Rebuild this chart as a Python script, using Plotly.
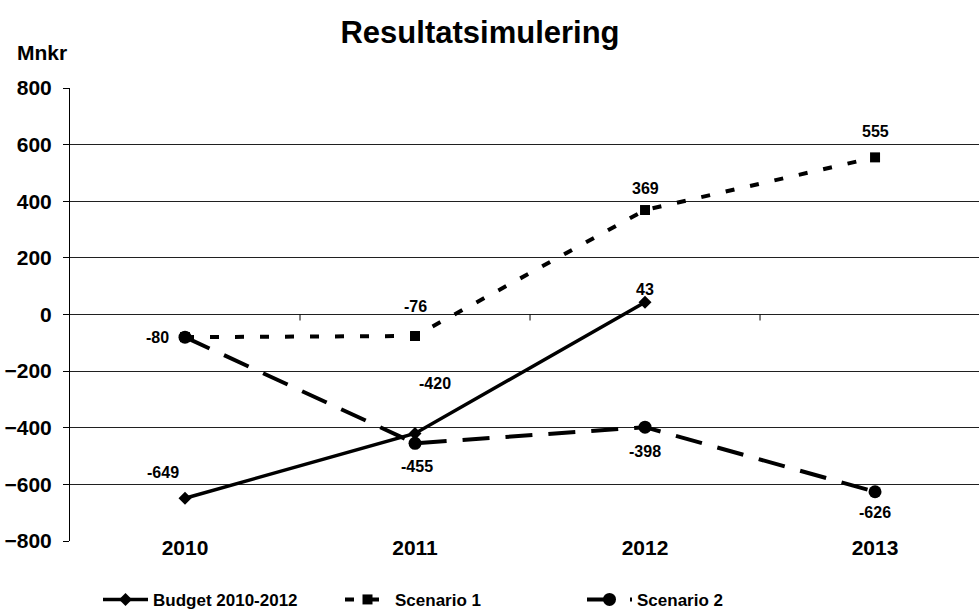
import plotly.graph_objects as go

years = ["2010", "2011", "2012", "2013"]
budget = [-649, -420, 43]
scenario1 = [-80, -76, 369, 555]
scenario2 = [-80, -455, -398, -626]
y_ticks = [-800, -600, -400, -200, 0, 200, 400, 600, 800]

FONT = "Liberation Sans, Arial, sans-serif"
xi = list(range(len(years)))

W, H = 979, 612
L, R, T, B = 70, 0, 88, 71
PW, PH = W - L - R, H - T - B

fig = go.Figure()
fig.add_trace(go.Scatter(
    x=xi[:len(budget)], y=budget, name="Budget 2010-2012", mode="lines+markers",
    line=dict(color="black", width=3.5),
    marker=dict(symbol="diamond", size=10, color="black")))
fig.add_trace(go.Scatter(
    x=xi, y=scenario1, name="Scenario 1", mode="lines+markers",
    line=dict(color="black", width=4, dash="9px,16px"),
    marker=dict(symbol="square", size=10, color="black")))
fig.add_trace(go.Scatter(
    x=xi, y=scenario2, name="Scenario 2", mode="lines+markers",
    line=dict(color="black", width=4, dash="27px,16px"),
    marker=dict(symbol="circle", size=13, color="black")))

# data labels (pixel offsets only)
b_off = [(-22, 26), (20, 50), (0, 13)]
s1_off = [None, (0, 30), (0, 22), (0, 26)]
s2_off = [(-28, 0), (2, -23), (0, -24), (0, -21)]
ann = []
for series, offs in ((budget, b_off), (scenario1, s1_off), (scenario2, s2_off)):
    for i, v in enumerate(series):
        o = offs[i]
        if o is None:
            continue
        ann.append(dict(x=xi[i], y=v, xref="x", yref="y", text=str(v), showarrow=False,
                        xshift=o[0], yshift=o[1],
                        font=dict(family=FONT, size=16, color="black", weight="bold")))
ann.append(dict(x=(42 - L) / PW, y=1 + 36 / PH, xref="paper", yref="paper",
                text="Mnkr", showarrow=False, xanchor="center", yanchor="middle",
                font=dict(family=FONT, size=21, color="black", weight="bold")))

# x-axis ticks at y=0 (category boundaries)
shapes = []
for b in [0.5, 1.5, 2.5]:
    shapes.append(dict(type="line", xref="x", yref="paper", x0=b, x1=b,
                       y0=0.5, y1=0.5 - 6 / PH, line=dict(color="black", width=1)))

fig.update_layout(
    width=W, height=H,
    margin=dict(l=L, r=R, t=T, b=B, autoexpand=False),
    paper_bgcolor="white", plot_bgcolor="white",
    title=dict(text="<b>Resultatsimulering</b>", x=(480 - L) / PW, xref="paper",
               xanchor="center", y=1 - 32 / H,
               yanchor="middle", font=dict(family=FONT, size=31, color="black")),
    xaxis=dict(range=[-0.5, 3.452], tickvals=xi, ticktext=years, showgrid=False,
               zeroline=False, showline=False, ticks="", ticklabelstandoff=-8,
               tickfont=dict(family=FONT, size=21, color="black", weight="bold")),
    yaxis=dict(range=[-800, 800], tickvals=y_ticks, showgrid=True, gridcolor="#202020",
               gridwidth=1, zeroline=False, showline=True, linecolor="black", linewidth=1,
               ticks="outside", ticklen=6, tickcolor="black", ticklabelstandoff=7,
               tickfont=dict(family=FONT, size=21, color="black", weight="bold")),
    legend=dict(orientation="h", x=(98 - L) / PW, xanchor="left", y=-0.130, yanchor="middle",
                font=dict(family=FONT, size=17, color="black", weight="bold"),
                itemwidth=45, entrywidth=182, bgcolor="rgba(0,0,0,0)"),
    annotations=ann, shapes=shapes, showlegend=True,
)

fig.write_html("out.html", config={"displayModeBar": False},
               post_script="document.body.style.margin='0px';")
